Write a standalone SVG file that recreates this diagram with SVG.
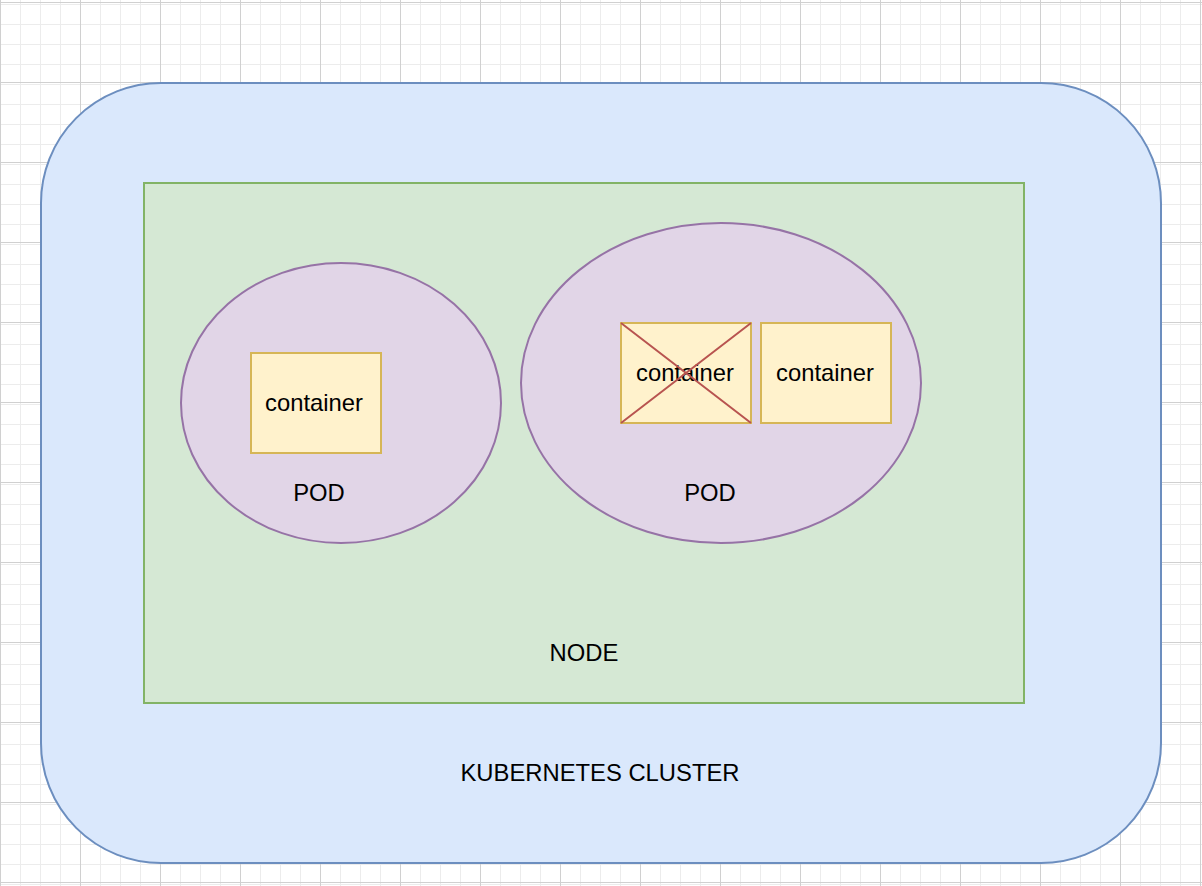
<svg xmlns="http://www.w3.org/2000/svg" width="1202" height="886" viewBox="0 0 1202 886">
  <defs>
    <pattern id="minor" x="0" y="2" width="20" height="20" patternUnits="userSpaceOnUse">
      <path d="M0.5 0V20M0 0.5H20" fill="none" stroke="#ececec" stroke-width="1"/>
    </pattern>
    <pattern id="major" x="0" y="2" width="80" height="80" patternUnits="userSpaceOnUse">
      <rect width="80" height="80" fill="url(#minor)"/>
      <path d="M0.5 0V80M0 0.5H80" fill="none" stroke="#d0d0d0" stroke-width="1"/>
    </pattern>
    <style>
      text { font-family: "Liberation Sans", Arial, Helvetica, sans-serif; font-size: 23.8px; fill: #000; text-anchor: middle; }
      .pod { fill: #e1d5e7; stroke: #9673a6; stroke-width: 2; }
      .ctr { fill: #fff2cc; stroke: #d6b656; stroke-width: 2; }
    </style>
  </defs>
  <rect width="1202" height="886" fill="#ffffff"/>
  <rect width="1202" height="886" fill="url(#major)"/>

  <g id="cluster">
    <rect x="41" y="83" width="1120" height="780" rx="120" ry="120" fill="#dae8fc" stroke="#6c8ebf" stroke-width="2"/>
    <text x="600" y="781">KUBERNETES CLUSTER</text>
  </g>

  <g id="node">
    <rect x="144" y="183" width="880" height="520" fill="#d5e8d4" stroke="#82b366" stroke-width="2"/>
    <text x="584" y="661">NODE</text>
  </g>

  <g id="pod1">
    <ellipse class="pod" cx="341" cy="403" rx="160" ry="140"/>
    <text x="319" y="501">POD</text>
  </g>

  <g id="pod2">
    <ellipse class="pod" cx="721" cy="383" rx="200" ry="160"/>
    <text x="710" y="501">POD</text>
  </g>

  <g id="container1">
    <rect class="ctr" x="251" y="353" width="130" height="100"/>
    <text x="314" y="411">container</text>
  </g>

  <g id="container2">
    <rect class="ctr" x="621" y="323" width="130" height="100"/>
    <text x="685" y="381">container</text>
    <path d="M621 323L751 423M751 323L621 423" fill="none" stroke="#b85450" stroke-width="2"/>
  </g>

  <g id="container3">
    <rect class="ctr" x="761" y="323" width="130" height="100"/>
    <text x="825" y="381">container</text>
  </g>

  <g id="connectors"></g>
</svg>
